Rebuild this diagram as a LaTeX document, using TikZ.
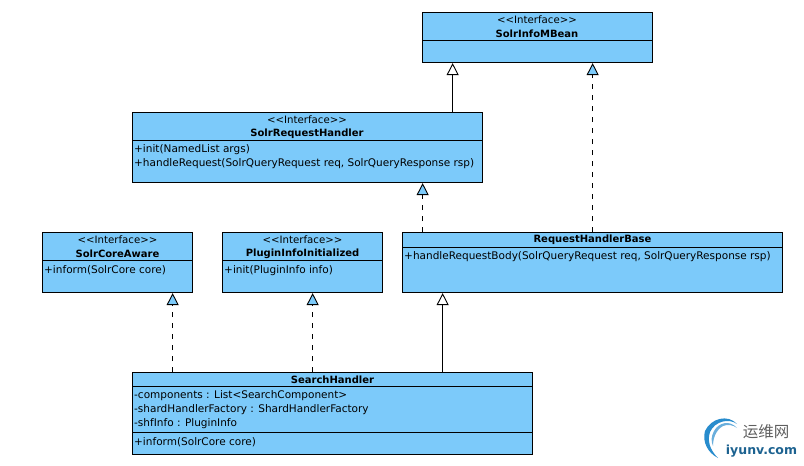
\documentclass[tikz,border=0pt]{standalone}
\usepackage{fontspec}
\setmainfont{DejaVu Sans}
\newfontfamily\cjk{Noto Sans CJK SC}
\usetikzlibrary{arrows.meta}
\definecolor{boxblue}{RGB}{124,202,250}
\definecolor{logoblue}{RGB}{40,140,205}
\definecolor{logogray}{RGB}{95,95,95}
\tikzset{
  umlbox/.style={draw, fill=boxblue, line width=0.9pt, anchor=north west, inner sep=0pt},
  stereo/.style={inner sep=0pt, font=\fontsize{10.2}{11}\selectfont},
  classname/.style={inner sep=0pt, font=\fontsize{10}{11}\selectfont\bfseries},
  member/.style={inner sep=0pt, anchor=west, font=\fontsize{10.5}{11}\selectfont},
  extends/.style={line width=0.9pt, -{Triangle[length=12pt,width=12pt,fill=white]}},
  realizes/.style={line width=0.9pt, dash pattern=on 5.5pt off 5.5pt, -{Triangle[length=12pt,width=12pt,fill=boxblue]}},
}
\begin{document}
\begin{tikzpicture}[x=1pt,y=-1pt]
    \useasboundingbox (0,0) rectangle (804,466);
    \node[umlbox, minimum width=230pt, minimum height=50pt] (mbean) at (422.2,12.2) {};
    \node[umlbox, minimum width=350pt, minimum height=70pt] (handler) at (132.2,112.2) {};
    \node[umlbox, minimum width=150pt, minimum height=60pt] (aware) at (42.2,232.2) {};
    \node[umlbox, minimum width=160pt, minimum height=60pt] (plugin) at (222.2,232.2) {};
    \node[umlbox, minimum width=380pt, minimum height=60pt] (base) at (402.2,232.2) {};
    \node[umlbox, minimum width=400pt, minimum height=81.5pt] (search) at (132.2,372.2) {};

    % dividers
    \draw[line width=0.9pt] (mbean.west |- 0,40.5) -- (mbean.east |- 0,40.5);
    \draw[line width=0.9pt] (handler.west |- 0,140) -- (handler.east |- 0,140);
    \draw[line width=0.9pt] (aware.west |- 0,260) -- (aware.east |- 0,260);
    \draw[line width=0.9pt] (plugin.west |- 0,260) -- (plugin.east |- 0,260);
    \draw[line width=0.9pt] (base.west |- 0,247) -- (base.east |- 0,247);
    \draw[line width=0.9pt] (search.west |- 0,386.5) -- (search.east |- 0,386.5);
    \draw[line width=0.9pt] (search.west |- 0,432) -- (search.east |- 0,432);

    \node[stereo] (mbeantype) at (537,19.5) {<{}<Interface>{}>};
    \node[classname] (mbeanname) at (537,33.5) {SolrInfoMBean};

    \node[stereo] (handlertype) at (307,119.5) {<{}<Interface>{}>};
    \node[classname] (handlername) at (307,133.5) {SolrRequestHandler};
    \node[member] (handlerinit) at (134,150) {+init(NamedList args)};
    \node[member] (handlerreq) at (134,164) {+handleRequest(SolrQueryRequest req, SolrQueryResponse rsp)};

    \node[stereo] (awaretype) at (117.5,239.5) {<{}<Interface>{}>};
    \node[classname] (awarename) at (117.5,254) {SolrCoreAware};
    \node[member] (awareinform) at (44,270.5) {+inform(SolrCore core)};

    \node[stereo] (plugintype) at (302.5,239.5) {<{}<Interface>{}>};
    \node[classname] (pluginname) at (302.5,254) {PluginInfoInitialized};
    \node[member] (plugininit) at (224,270.5) {+init(PluginInfo info)};

    \node[classname] (basename) at (592.5,240) {RequestHandlerBase};
    \node[member] (basebody) at (404,256.5) {+handleRequestBody(SolrQueryRequest req, SolrQueryResponse rsp)};

    \node[classname] (searchname) at (332.5,380) {SearchHandler};
    \node[member] (searchcomp) at (134,396) {-components : List<SearchComponent>};
    \node[member] (searchfactory) at (134,410) {-shardHandlerFactory : ShardHandlerFactory};
    \node[member] (searchinfo) at (134,424) {-shfInfo : PluginInfo};
    \node[member] (searchinform) at (134,442) {+inform(SolrCore core)};

    \draw[extends] ([xshift=145pt]handler.north) -- ([xshift=-85pt]mbean.south);
    \draw[realizes] (base.north) -- ([xshift=55pt]mbean.south);
    \draw[realizes] ([xshift=-170pt]base.north) -- ([xshift=115pt]handler.south);
    \draw[realizes] ([xshift=-160pt]search.north) -- ([xshift=55pt]aware.south);
    \draw[realizes] ([xshift=-20pt]search.north) -- ([xshift=10pt]plugin.south);
    \draw[extends] ([xshift=110pt]search.north) -- ([xshift=-150pt]base.south);

    % logo
    \fill[logoblue] (737,424) .. controls (728,414) and (711,418) .. (705,431) .. controls (702,442) and (708,453) .. (718,458) .. controls (710,450) and (707,441) .. (710,432) .. controls (715,421) and (729,418) .. (737,424) -- cycle;
    \fill[logoblue!70] (737,428) .. controls (730,420) and (719,422) .. (714,431) .. controls (711,437) and (711,441) .. (713,446) .. controls (713,438) and (716,430) .. (723,426) .. controls (728,424) and (733,425) .. (737,428) -- cycle;
    \node[inner sep=0pt, text=logogray, font=\cjk\fontsize{15.5}{16}\selectfont] (logocn) at (766,432) {运维网};
    \node[inner sep=0pt, text=logoblue!70!black, font=\fontsize{12.5}{13}\selectfont\bfseries] (logoen) at (761.5,451.5) {iyunv.com};
\end{tikzpicture}
\end{document}
